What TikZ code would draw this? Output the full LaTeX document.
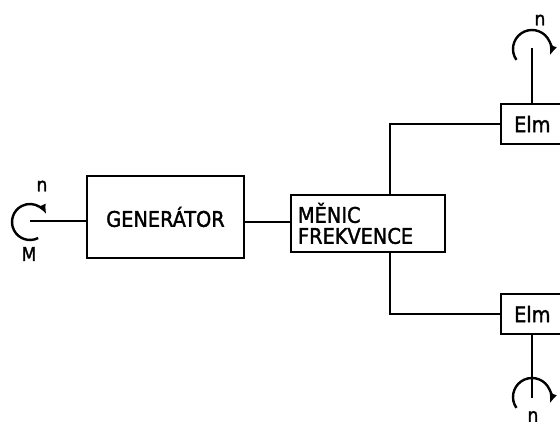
\documentclass[tikz,border=0pt]{standalone}
\usepackage{fontspec}
\setmainfont{DejaVu Sans Condensed}[FakeBold=1.6]
\usetikzlibrary{arrows.meta,calc}
\begin{document}
\begin{tikzpicture}[x=1pt,y=1pt,
  box/.style={draw,line width=2.2pt,inner sep=0pt,font=\fontsize{21.5}{21}\selectfont},
  wire/.style={line width=2.2pt},
  rot/.style={line width=2.4pt,-{Latex[length=10pt,width=8pt]}},
  lbl/.style={font=\fontsize{19}{19}\selectfont,inner sep=0pt}]
\useasboundingbox (0,0) rectangle (560,423);
\clip (0,0) rectangle (560,423);
% blocks
\node[box,minimum width=157,minimum height=82] (gen) at (165.5,206) {GENERÁTOR};
\node[box,text width=140,inner xsep=7pt,minimum height=57,align=left] (mc) at (368,199.5) {MĚNIC\\FREKVENCE};
\node[box,anchor=west,minimum height=40,text width=50,inner xsep=13pt,align=left] (elm1) at (500,299) {Elm};
\node[box,anchor=west,minimum height=40,text width=50,inner xsep=13pt,align=left] (elm2) at (500,109) {Elm};
% coordinates
\coordinate (s0) at (30,202);
\coordinate (g) at (0,201);
\coordinate (v) at (390,0);
\coordinate (t1) at (532,375);
\coordinate (t2) at (532,25);
% connectors
\draw[wire] (s0) -- (s0 -| gen.west);
\draw[wire] (gen.east |- g) -- (mc.west |- g);
\draw[wire] (elm1.west) -| (v |- mc.north);
\draw[wire] (elm2.west) -| (v |- mc.south);
\draw[wire] (t1 |- elm1.north) -- (t1);
\draw[wire] (t2 |- elm2.south) -- (t2);
% rotation arrows
\draw[rot] ($(30,201)+(-63:18)$) arc[start angle=-63,end angle=-335,radius=18];
\draw[rot] ($(532,374)+(215:19)$) arc[start angle=215,end angle=-20,radius=19];
\draw[rot] ($(532,26)+(215:19)$) arc[start angle=215,end angle=-20,radius=19];
% labels
\node[lbl] (n0) at (42,237) {n};
\node[lbl] (m0) at (29,169) {M};
\node[lbl] (n1) at (540,403) {n};
\node[lbl,anchor=south] (n2) at (533,1) {n};
\end{tikzpicture}
\end{document}
